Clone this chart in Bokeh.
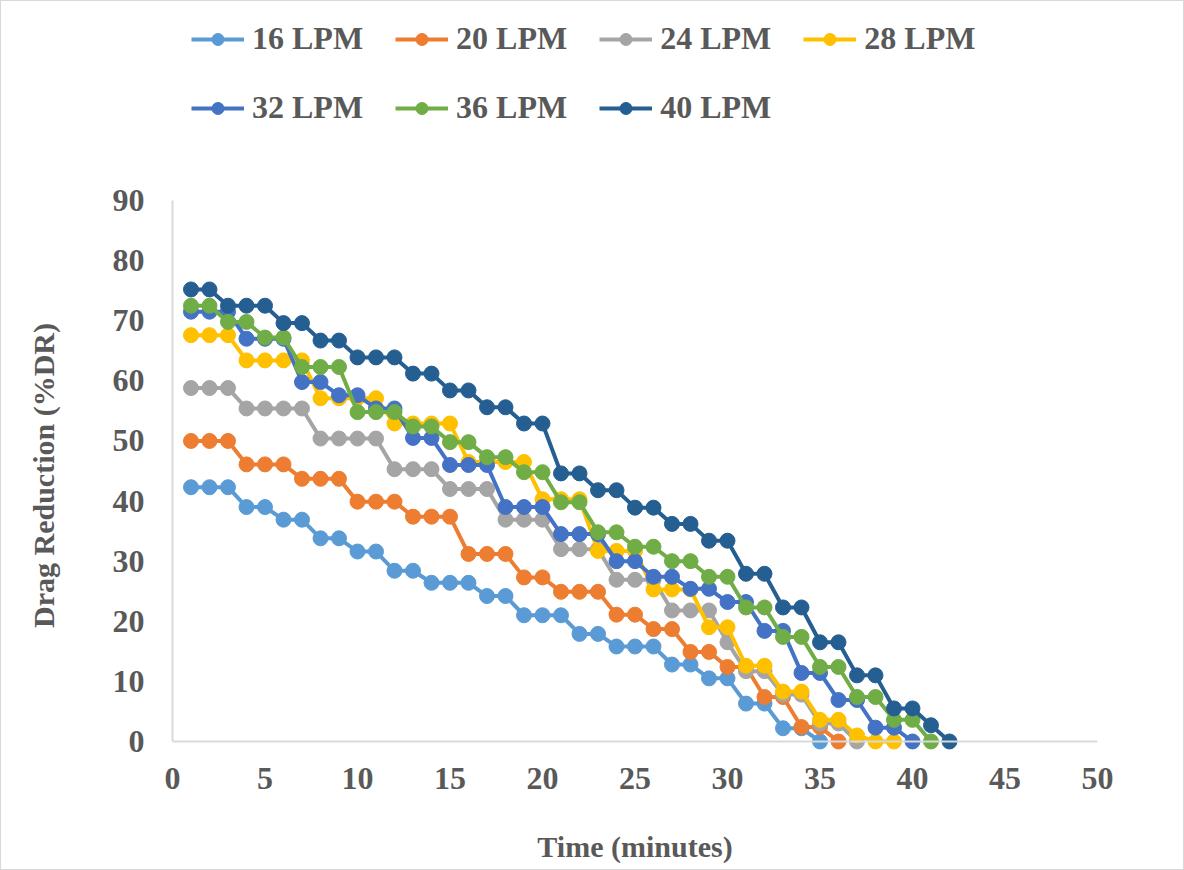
from bokeh.plotting import figure
from bokeh.models import Range1d, Legend, LegendItem, Span, FixedTicker
from bokeh.layouts import column
from bokeh.embed import file_html
from bokeh.resources import INLINE

# ---- data ----
labels = ["16 LPM", "20 LPM", "24 LPM", "28 LPM", "32 LPM", "36 LPM", "40 LPM"]
colors = ["#5B9BD5", "#ED7D31", "#A5A5A5", "#FFC000", "#4472C4", "#70AD47", "#255E91"]

time_16 = list(range(1, 36))
dr_16 = [42.3, 42.3, 42.3, 39.0, 39.0, 36.9, 36.9, 33.8, 33.8, 31.6, 31.6, 28.4, 28.4,
         26.4, 26.4, 26.4, 24.2, 24.2, 21.0, 21.0, 21.0, 17.9, 17.9, 15.8, 15.8, 15.8,
         12.8, 12.8, 10.5, 10.5, 6.3, 6.3, 2.2, 2.2, 0.0]

time_20 = list(range(1, 37))
dr_20 = [50.0, 50.0, 50.0, 46.1, 46.1, 46.1, 43.7, 43.7, 43.7, 39.9, 39.9, 39.9,
         37.4, 37.4, 37.4, 31.2, 31.2, 31.2, 27.3, 27.3, 24.9, 24.9, 24.9, 21.1, 21.1,
         18.7, 18.7, 14.9, 14.9, 12.4, 12.4, 7.4, 7.4, 2.4, 2.4, 0.0]

time_24 = list(range(1, 38))
dr_24 = [58.8, 58.8, 58.8, 55.4, 55.4, 55.4, 55.4, 50.4, 50.4, 50.4, 50.4,
         45.3, 45.3, 45.3, 42.0, 42.0, 42.0, 36.9, 36.9, 36.9, 32.0, 32.0, 32.0,
         26.9, 26.9, 26.9, 21.8, 21.8, 21.8, 16.5, 11.7, 11.7, 7.8, 7.8, 3.0, 3.0, 0.0]

time_28 = list(range(1, 40))
dr_28 = [67.6, 67.6, 67.6, 63.4, 63.4, 63.4, 63.4, 57.1, 57.1, 57.1, 57.1,
         52.9, 52.9, 52.9, 52.9, 46.5, 46.5, 46.5, 46.5, 40.3, 40.3, 40.3,
         31.7, 31.7, 31.7, 25.3, 25.3, 25.3, 19.0, 19.0, 12.6, 12.6, 8.3, 8.3,
         3.6, 3.6, 1.0, 0.0, 0.0]

time_32 = list(range(1, 41))
dr_32 = [71.5, 71.5, 71.5, 67.0, 67.0, 67.0, 59.8, 59.8, 57.6, 57.6, 55.4, 55.4,
         50.5, 50.5, 46.0, 46.0, 46.0, 39.0, 39.0, 39.0, 34.5, 34.5, 34.5, 30.0, 30.0,
         27.4, 27.4, 25.4, 25.4, 23.2, 23.2, 18.4, 18.4, 11.4, 11.4, 6.9, 6.9,
         2.3, 2.3, 0.0]

time_36 = list(range(1, 42))
dr_36 = [72.5, 72.5, 69.8, 69.8, 67.2, 67.2, 62.3, 62.3, 62.3, 54.8, 54.8, 54.8,
         52.4, 52.4, 49.8, 49.8, 47.3, 47.3, 44.8, 44.8, 39.8, 39.8, 34.8, 34.8,
         32.4, 32.4, 30.0, 30.0, 27.4, 27.4, 22.3, 22.3, 17.4, 17.4, 12.4, 12.4,
         7.4, 7.4, 3.6, 3.6, 0.0]

time_40 = list(range(1, 43))
dr_40 = [75.2, 75.2, 72.5, 72.5, 72.5, 69.6, 69.6, 66.7, 66.7, 63.9, 63.9, 63.9,
         61.2, 61.2, 58.4, 58.4, 55.6, 55.6, 52.9, 52.9, 44.6, 44.6, 41.8, 41.8,
         38.9, 38.9, 36.2, 36.2, 33.4, 33.4, 27.9, 27.9, 22.3, 22.3, 16.5, 16.5,
         11.0, 11.0, 5.5, 5.5, 2.7, 0.0]

x_ticks = [0, 5, 10, 15, 20, 25, 30, 35, 40, 45, 50]
y_ticks = [0, 10, 20, 30, 40, 50, 60, 70, 80, 90]

series_x = [time_16, time_20, time_24, time_28, time_32, time_36, time_40]
series_y = [dr_16, dr_20, dr_24, dr_28, dr_32, dr_36, dr_40]

FONT = "Liberation Serif"
TXT = "#595959"
AXC = "#D9D9D9"
LEG_H = 170

# ---- main chart ----
p = figure(width=1182, height=868 - LEG_H, output_backend="svg", toolbar_location=None,
           x_range=Range1d(0, 50), y_range=Range1d(-1.5, 90),
           min_border_left=171, min_border_right=86,
           min_border_top=199 - LEG_H, min_border_bottom=119)
p.outline_line_color = None
p.xgrid.visible = False
p.ygrid.visible = False
p.background_fill_color = "white"
p.border_fill_color = "white"

# ---- legend strip: same series, drawn outside its visible range ----
leg = figure(width=1182, height=LEG_H, output_backend="svg", toolbar_location=None,
             x_axis_type=None, y_axis_type=None,
             x_range=Range1d(-200, -100), y_range=Range1d(-200, -100),
             min_border_left=0, min_border_right=0, min_border_top=0, min_border_bottom=0)
leg.outline_line_color = None
leg.xgrid.visible = False
leg.ygrid.visible = False

items = []
for xs, ys, c, lab in zip(series_x, series_y, colors, labels):
    p.line(xs, ys, line_color=c, line_width=4)
    p.scatter(xs, ys, marker="circle", size=15, fill_color=c, line_color=c)
    l1 = leg.line(xs, ys, line_color=c, line_width=4)
    l2 = leg.scatter(xs, ys, marker="circle", size=13, fill_color=c, line_color=c)
    items.append(LegendItem(label=lab, renderers=[l1, l2]))

# x axis line at y = 0
p.add_layout(Span(location=0, dimension="width", line_color=AXC, line_width=2))

for ax in (p.xaxis, p.yaxis):
    ax.major_tick_line_color = None
    ax.minor_tick_line_color = None
    ax.major_label_text_font = FONT
    ax.major_label_text_font_style = "bold"
    ax.major_label_text_font_size = "32px"
    ax.major_label_text_color = TXT
    ax.axis_label_text_font = FONT
    ax.axis_label_text_font_style = "bold"
    ax.axis_label_text_font_size = "30px"
    ax.axis_label_text_color = TXT

p.xaxis.ticker = FixedTicker(ticks=x_ticks)
p.yaxis.ticker = FixedTicker(ticks=y_ticks)
p.xaxis.axis_line_color = None
p.yaxis.axis_line_color = AXC
p.yaxis.axis_line_width = 2
p.yaxis.bounds = (0, 90)
p.xaxis.major_label_standoff = 11
p.yaxis.major_label_standoff = 22
p.xaxis.axis_label = "Time (minutes)"
p.yaxis.axis_label = "Drag Reduction (%DR)"
p.xaxis.axis_label_standoff = 38
p.yaxis.axis_label_standoff = 50

legend = Legend(items=items, orientation="horizontal", ncols=4,
                location=(19, 45), spacing=32,
                glyph_width=53, glyph_height=30, label_standoff=8,
                label_text_font=FONT, label_text_font_style="bold",
                label_text_font_size="32px", label_text_color=TXT,
                border_line_color=None, background_fill_alpha=0,
                padding=0, margin=0)
leg.add_layout(legend, "center")

page = column(leg, p, spacing=0,
              styles={"border": "1px solid #D9D9D9", "background-color": "white"})

open("out.html", "w").write(file_html(page, INLINE))
